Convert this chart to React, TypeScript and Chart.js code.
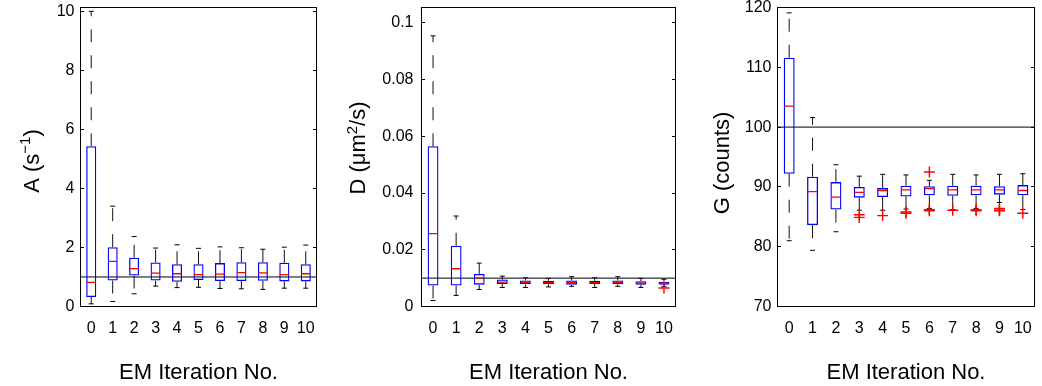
import React, { useEffect, useRef } from 'react';
import { Chart, registerables } from 'chart.js';

Chart.register(...registerables);

const FONT = "'Liberation Sans', Arial, Helvetica, sans-serif";
const H = 386;

// ---------- data ----------
const categories = ['0', '1', '2', '3', '4', '5', '6', '7', '8', '9', '10'];

// Panel A (s^-1)
const aMin = [0.09, 0.17, 0.43, 0.69, 0.64, 0.65, 0.61, 0.6, 0.58, 0.62, 0.62];
const aQ1 = [0.32, 0.88, 1.05, 0.88, 0.84, 0.9, 0.86, 0.86, 0.87, 0.85, 0.85];
const aMed = [0.82, 1.53, 1.28, 1.13, 1.11, 1.08, 1.1, 1.15, 1.14, 1.08, 1.11];
const aQ3 = [5.43, 2.01, 1.65, 1.49, 1.43, 1.43, 1.47, 1.5, 1.5, 1.48, 1.43];
const aMax = [10.0, 3.4, 2.37, 1.98, 2.09, 1.97, 2.02, 1.99, 1.94, 2.01, 2.08];
const aOutliers: [number, number][] = [];
const aRef = 1;
const aTicks = [0, 2, 4, 6, 8, 10];

// Panel D (um^2/s)
const dMin = [0.0021, 0.0039, 0.006, 0.0067, 0.0067, 0.0069, 0.0071, 0.0067, 0.0071, 0.0067, 0.0071];
const dQ1 = [0.0074, 0.0074, 0.0077, 0.0079, 0.0078, 0.0078, 0.0077, 0.0079, 0.0078, 0.0077, 0.0077];
const dMed = [0.0257, 0.0133, 0.01, 0.0086, 0.0085, 0.0084, 0.0085, 0.0084, 0.0084, 0.0082, 0.0082];
const dQ3 = [0.0565, 0.0214, 0.0115, 0.0095, 0.0092, 0.0091, 0.0092, 0.0091, 0.0092, 0.0089, 0.0087];
const dMax = [0.0954, 0.0319, 0.0153, 0.0107, 0.0101, 0.0099, 0.0105, 0.0101, 0.0105, 0.0099, 0.0096];
const dOutliers: [number, number][] = [[10, 0.0065]];
const dRef = 0.01;
const dTicks = [0, 0.02, 0.04, 0.06, 0.08, 0.1];

// Panel G (counts)
const gMin = [81.0, 79.4, 82.5, 86.1, 86.1, 86.3, 86.4, 86.2, 86.4, 87.4, 86.2];
const gQ1 = [92.2, 83.6, 86.2, 88.2, 88.3, 88.4, 88.6, 88.5, 88.6, 88.7, 88.6];
const gMed = [103.5, 89.2, 88.3, 89.1, 89.4, 89.5, 89.7, 89.5, 89.5, 89.5, 89.4];
const gQ3 = [111.6, 91.7, 90.8, 90.0, 89.8, 90.2, 90.1, 90.2, 90.2, 90.1, 90.3];
const gMax = [119.1, 101.6, 93.7, 91.8, 92.1, 92.0, 91.1, 92.1, 92.0, 92.1, 92.2];
const gOutliers: [number, number][] = [
  [3, 85.35], [3, 84.9], [4, 85.2], [5, 85.8], [5, 85.6],
  [6, 92.5], [6, 86.2], [6, 86.0], [7, 86.1], [8, 86.2], [8, 86.0],
  [9, 86.4], [9, 86.1], [9, 86.0], [10, 85.6],
];
const gRef = 100;
const gTicks = [70, 80, 90, 100, 110, 120];

const xTitle = 'EM Iteration No.';

type Part = [string, boolean];
type Panel = {
  left: number; width: number;
  areaLeft: number; areaRight: number;
  yMin: number; yMax: number; ticks: number[]; tickPad: number;
  min: number[]; q1: number[]; med: number[]; q3: number[]; max: number[];
  outliers: [number, number][]; ref: number;
  title: Part[]; titleX: number; titleY: number;
};

const panels: Panel[] = [
  {
    left: 0, width: 340, areaLeft: 80.5, areaRight: 316.5,
    yMin: 0, yMax: 10.13, ticks: aTicks, tickPad: 6,
    min: aMin, q1: aQ1, med: aMed, q3: aQ3, max: aMax, outliers: aOutliers, ref: aRef,
    title: [['A (s', false], ['\u22121', true], [')', false]], titleX: 38.5, titleY: 161,
  },
  {
    left: 340, width: 350, areaLeft: 81.5, areaRight: 335.5,
    yMin: 0, yMax: 0.1054, ticks: dTicks, tickPad: 8,
    min: dMin, q1: dQ1, med: dMed, q3: dQ3, max: dMax, outliers: dOutliers, ref: dRef,
    title: [['D (\u03bcm', false], ['2', true], ['/s)', false]], titleX: 25, titleY: 148,
  },
  {
    left: 690, width: 352, areaLeft: 87.5, areaRight: 344.5,
    yMin: 70, yMax: 120, ticks: gTicks, tickPad: 6,
    min: gMin, q1: gQ1, med: gMed, q3: gQ3, max: gMax, outliers: gOutliers, ref: gRef,
    title: [['G (counts)', false]], titleX: 38.5, titleY: 163,
  },
];

const AREA_TOP = 7.5;
const AREA_BOTTOM = 306.5;

const decorPlugin = {
  id: 'decor',
  afterDraw(chart: any, _args: any, opts: any) {
    const { ctx, chartArea } = chart;
    const l = Math.floor(chartArea.left);
    const r = Math.floor(chartArea.right);
    const t = Math.floor(chartArea.top);
    const b = Math.floor(chartArea.bottom);
    const ys = chart.scales.y;
    ctx.save();
    ctx.globalAlpha = 1;
    ctx.globalCompositeOperation = 'source-over';
    ctx.fillStyle = '#000';
    // frame
    ctx.fillRect(l, t, r - l + 1, 1);
    ctx.fillRect(l, b, r - l + 1, 1);
    ctx.fillRect(l, t, 1, b - t + 1);
    ctx.fillRect(r, t, 1, b - t + 1);
    // inner ticks on left and right
    ys.ticks.forEach((tk: any) => {
      const py = Math.round(ys.getPixelForValue(tk.value) - 0.5);
      ctx.fillRect(l, py, 4, 1);
      ctx.fillRect(r - 3, py, 4, 1);
    });

    // rotated y title with superscripts
    const parts: Part[] = opts.parts;
    const big = `22px ${FONT}`;
    const small = `15px ${FONT}`;
    let total = 0;
    parts.forEach(([txt, sup]) => {
      ctx.font = sup ? small : big;
      total += ctx.measureText(txt).width;
    });
    ctx.translate(opts.x, opts.y);
    ctx.rotate(-Math.PI / 2);
    ctx.textBaseline = 'alphabetic';
    ctx.textAlign = 'left';
    let cur = -total / 2;
    parts.forEach(([txt, sup]) => {
      ctx.font = sup ? small : big;
      ctx.fillText(txt, cur, sup ? -8.5 : 0);
      cur += ctx.measureText(txt).width;
    });
    ctx.restore();
  },
};

function BoxPanel({ p }: { p: Panel }) {
  const ref = useRef<HTMLCanvasElement>(null);

  useEffect(() => {
    const canvas = ref.current;
    if (!canvas) return;

    const whiskers: any[] = [];
    const caps: any[] = [];
    const medians: any[] = [];
    categories.forEach((c, i) => {
      whiskers.push(
        { x: c, y: p.q3[i] }, { x: c, y: p.max[i] }, { x: c, y: null },
        { x: c, y: p.q1[i] }, { x: c, y: p.min[i] }, { x: c, y: null },
      );
      caps.push({ x: c, y: p.max[i] }, { x: c, y: p.min[i] });
      medians.push({ x: c, y: p.med[i] });
    });
    const outl = p.outliers.map(([i, v]) => ({ x: categories[i], y: v }));

    const chart = new Chart(canvas, {
      type: 'bar',
      data: {
        labels: categories,
        datasets: [
          {
            type: 'line', data: outl as any, xAxisID: 'x', yAxisID: 'y', order: 0,
            showLine: false, pointStyle: 'cross', pointRadius: 5.5,
            pointBorderColor: '#ff0000', pointBorderWidth: 1.4, pointBackgroundColor: '#ff0000',
          } as any,
          {
            type: 'line', data: medians as any, xAxisID: 'x', yAxisID: 'y', order: 1,
            showLine: false, pointStyle: 'line', pointRadius: 4.5,
            pointBorderColor: '#ff0000', pointBorderWidth: 1.3,
          } as any,
          {
            type: 'bar', data: categories.map((_, i) => [p.q1[i], p.q3[i]]) as any,
            xAxisID: 'x', yAxisID: 'y', order: 2, grouped: false,
            backgroundColor: 'rgba(0,0,0,0)', borderColor: '#0000ff', borderWidth: 1.3,
            borderSkipped: false, categoryPercentage: 1, barPercentage: 0.47,
          } as any,
          {
            type: 'line', data: caps as any, xAxisID: 'x', yAxisID: 'y', order: 3,
            showLine: false, pointStyle: 'line', pointRadius: 2.5,
            pointBorderColor: '#000', pointBorderWidth: 1,
          } as any,
          {
            type: 'line', data: whiskers as any, xAxisID: 'x', yAxisID: 'y', order: 4,
            pointRadius: 0, borderColor: '#111', borderWidth: 1, borderDash: [13, 13],
            spanGaps: false, tension: 0, fill: false,
          } as any,
          {
            type: 'line', data: [{ x: 0, y: p.ref }, { x: 1, y: p.ref }] as any,
            xAxisID: 'x2', yAxisID: 'y', order: 5,
            pointRadius: 0, borderColor: '#000', borderWidth: 1, fill: false,
          } as any,
        ],
      },
      options: {
        responsive: false,
        animation: false,
        events: [],
        layout: { padding: { left: 0, top: AREA_TOP, right: p.width - p.areaRight, bottom: 0 } },
        plugins: {
          legend: { display: false },
          tooltip: { enabled: false },
          decor: { parts: p.title, x: p.titleX, y: p.titleY },
        } as any,
        scales: {
          x: {
            type: 'category',
            offset: true,
            grid: { display: false, drawTicks: false },
            border: { display: false },
            ticks: { color: '#000', font: { size: 16, family: FONT }, padding: 12.2, maxRotation: 0, autoSkip: false },
            title: { display: true, text: xTitle, color: '#000', font: { size: 22, family: FONT }, padding: { top: 0, bottom: 0 } },
            afterFit: (s: any) => {
              s.height = H - AREA_BOTTOM;
              s.paddingLeft = 0;
              s.paddingRight = 0;
            },
          },
          x2: {
            type: 'linear', axis: 'x', min: 0, max: 1, display: false, offset: false,
            grid: { offset: false },
          },
          y: {
            type: 'linear',
            min: p.yMin,
            max: p.yMax,
            grid: { display: false, drawTicks: false },
            border: { display: false },
            ticks: {
              color: '#000', font: { size: 16, family: FONT }, padding: p.tickPad,
              callback: (v: any) => String(v),
            },
            afterBuildTicks: (s: any) => {
              s.ticks = p.ticks.map((v) => ({ value: v }));
            },
            afterFit: (s: any) => {
              s.width = p.areaLeft;
              s.paddingTop = 0;
              s.paddingBottom = 0;
            },
          },
        } as any,
      },
      plugins: [decorPlugin as any],
    });

    return () => chart.destroy();
  }, [p]);

  return (
    <canvas
      ref={ref}
      width={p.width}
      height={H}
      style={{ position: 'absolute', left: p.left, top: 0, width: p.width, height: H }}
    />
  );
}

export default function App() {
  return (
    <div style={{ position: 'fixed', left: 0, top: 0, width: 1042, height: H, background: '#fff' }}>
      {panels.map((p, i) => (
        <BoxPanel key={i} p={p} />
      ))}
    </div>
  );
}
